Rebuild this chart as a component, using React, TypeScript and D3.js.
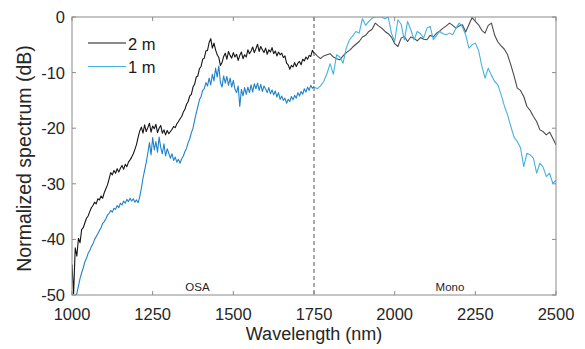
import React, { useEffect, useRef } from 'react';
import * as d3 from 'd3';

// OSA part: sampled every 5 nm, Mono part: 1750..2500 nm every 10 nm
const osaStart = 1000;
const osaStep = 5;
const monoStart = 1750;
const monoStep = 10;

// 2 m fibre, OSA, 1000..1750 nm (rows of 50 nm)
const black2mOsa = [
  -44.5, -49.8, -41.5, -43.0, -39.8, -40.6, -38.2, -37.9, -37.0, -36.2,
  -35.8, -35.0, -34.3, -33.9, -33.3, -33.6, -32.7, -32.9, -32.2, -32.6,
  -31.6, -30.9, -30.2, -29.1, -28.0, -28.4, -27.6, -28.1, -27.3, -27.9,
  -27.2, -26.7, -27.4, -26.5, -26.9, -26.1, -25.7, -25.2, -24.6, -23.8,
  -22.9, -21.6, -20.5, -19.8, -20.9, -19.4, -20.6, -19.9, -19.1, -20.7,
  -19.6, -20.1, -19.3, -20.8, -20.0, -19.5, -20.9, -20.3, -21.2, -20.4,
  -21.0, -20.6, -20.2, -19.7, -19.9, -19.2, -18.8, -18.3, -17.9, -17.1,
  -16.6, -15.7, -15.2, -14.2, -13.9, -12.6, -12.1, -10.8, -10.6, -9.3,
  -8.9, -7.6, -7.4, -6.1, -6.0, -4.6, -3.9, -5.6, -4.7, -5.9,
  -6.8, -7.3, -8.7, -8.2, -7.1, -6.5, -7.6, -6.2, -6.9, -7.4,
  -6.4, -7.2, -6.7, -7.8, -6.9, -6.3, -7.5, -6.8, -7.2, -5.9,
  -6.6, -6.1, -5.4, -6.4, -5.7, -4.9, -6.2, -5.3, -5.9, -6.4,
  -5.6, -6.7, -5.9, -6.3, -5.5, -6.6, -6.1, -7.0, -6.3, -6.8,
  -6.5, -7.3, -7.0, -8.3, -8.6, -9.4, -8.7, -9.0, -8.2, -8.9,
  -8.3, -8.0, -8.6, -7.6, -7.9, -7.2, -7.6, -6.9, -7.1, -6.0,
  -6.5,
];

// 1 m fibre, OSA, 1010..1750 nm
const blue1mOsaStart = 1010;
const blue1mOsa = [
  -50.5, -49.7, -48.4, -47.0, -46.0, -45.1, -44.0, -43.4, -42.5, -42.0,
  -41.3, -40.8, -40.0, -39.5, -39.0, -38.4, -37.9, -37.1, -36.8, -36.3,
  -35.6, -35.3, -34.8, -35.1, -34.4, -34.6, -33.9, -34.3, -33.5, -33.8,
  -33.1, -33.5, -32.8, -33.2, -32.6, -33.1, -32.7, -33.3, -32.9, -33.4,
  -32.3, -30.8, -29.0, -27.6, -26.2, -24.5, -22.6, -24.8, -21.7, -23.9,
  -22.4, -24.3, -21.6, -23.5, -24.6, -22.8, -25.0, -23.7, -24.5, -25.4,
  -24.6, -25.8, -25.2, -26.1, -25.6, -26.3, -25.5, -25.0, -24.2, -23.6,
  -22.6, -21.9, -20.8, -20.0, -18.6, -17.3, -16.1, -14.9, -14.3, -13.2,
  -12.9, -11.8, -12.4, -11.0, -12.2, -10.3, -11.5, -9.2, -10.8, -8.8,
  -11.8, -12.6, -10.6, -11.9, -10.7, -12.3, -11.0, -12.6, -11.4, -13.0,
  -13.6, -12.4, -16.1, -13.0, -14.2, -12.7, -13.9, -12.6, -13.6, -12.2,
  -13.5, -12.0, -12.9, -11.9, -13.2, -12.1, -13.4, -12.4, -12.9, -13.6,
  -12.7, -13.8, -13.1, -14.0, -13.3, -14.4, -13.6, -14.8, -14.2, -15.0,
  -14.6, -15.5, -14.8, -15.2, -14.3, -14.9, -14.1, -14.6, -13.6, -14.2,
  -13.4, -13.9, -12.9, -13.5, -12.6, -13.2, -12.3, -12.8,
  -12.5,
];

// Mono, 1750..2500 nm
const black2mMono = [
  -6.4, -7.0, -7.5, -7.0, -6.8, -6.6, -7.2, -7.5, -7.7, -7.0,
  -6.4, -6.0, -5.4, -4.9, -4.4, -3.6, -3.3, -2.6, -2.2, -1.1,
  -1.6, -2.0, -2.6, -3.0, -3.6, -4.8, -5.3, -3.8, -3.5, -4.4,
  -3.6, -3.8, -4.3, -3.7, -4.0, -4.1, -3.3, -3.6, -2.9, -2.5,
  -2.0, -1.6, -1.1, -1.5, -2.0, -1.6, -1.4, -2.7, -1.4, -0.1,
  -0.8, -1.4, -2.4, -2.9, -1.5, -1.1, -3.3, -4.5, -5.2, -5.8,
  -6.8, -8.6, -10.6, -12.8, -13.2, -14.3, -16.1, -16.8, -17.9, -18.8,
  -20.3, -20.6, -21.2, -20.7, -21.8, -23.0,
];

const blue1mMono = [
  -12.6, -12.9, -12.4, -11.6, -10.2, -8.4, -10.3, -6.8, -7.2, -8.3,
  -5.6, -4.1, -3.4, -2.6, -2.9, -0.3, -1.5, -0.8, -0.2, 0,
  0, 0, -0.3, 0, -2.9, -4.4, -0.5, -1.3, -4.1, -0.8,
  -2.3, -4.1, -2.6, -3.0, -3.8, -2.0, -1.7, -4.1, -3.3, -2.6,
  -3.0, -3.2, -2.9, -3.2, -2.0, -1.1, -1.8, -3.2, -5.6, -5.0,
  -4.7, -6.0, -8.8, -11.0, -9.2, -10.5, -11.6, -12.2, -14.0, -16.0,
  -17.6, -19.7, -21.6, -22.4, -23.5, -26.9, -24.5, -24.8, -25.4, -28.1,
  -26.3, -27.0, -28.7, -28.1, -29.9, -29.4,
];

const xTicks = [1000, 1250, 1500, 1750, 2000, 2250, 2500];
const yTicks = [0, -10, -20, -30, -40, -50];
const legendLabels = ['2 m', '1 m'];

const App: React.FC = () => {
  const svgRef = useRef<SVGSVGElement | null>(null);

  useEffect(() => {
    if (!svgRef.current) return;
    const width = 585;
    const height = 349;
    const margin = { top: 17, right: 29, bottom: 54, left: 72 };
    const font = '"Liberation Sans", Arial, sans-serif';

    const svg = d3.select(svgRef.current);
    svg.selectAll('*').remove();

    const x = d3.scaleLinear().domain([1000, 2500]).range([margin.left, width - margin.right]);
    const y = d3.scaleLinear().domain([-50, 0]).range([height - margin.bottom, margin.top]);
    const [x0, x1] = x.range();
    const [y0, y1] = y.range();

    svg.append('defs').append('clipPath').attr('id', 'plot-clip')
      .append('rect').attr('x', x0).attr('y', y1).attr('width', x1 - x0).attr('height', y0 - y1);

    const line = d3.line<[number, number]>().x(d => x(d[0])).y(d => y(d[1]));
    const toPts = (vals: number[], start: number, step: number) =>
      vals.map((v, i) => [start + i * step, v] as [number, number]);

    const series = [
      { pts: toPts(black2mOsa, osaStart, osaStep), color: '#151515' },
      { pts: toPts(blue1mOsa, blue1mOsaStart, osaStep), color: '#2182cc' },
      { pts: toPts(black2mMono, monoStart, monoStep), color: '#4a4a4a' },
      { pts: toPts(blue1mMono, monoStart, monoStep), color: '#45b2e2' },
    ];

    const plot = svg.append('g').attr('clip-path', 'url(#plot-clip)');
    series.forEach(s => {
      plot.append('path').datum(s.pts)
        .attr('fill', 'none').attr('stroke', s.color).attr('stroke-width', 1.1)
        .attr('stroke-linejoin', 'round').attr('d', line);
    });

    // divider OSA / Mono
    svg.append('line')
      .attr('x1', x(1750)).attr('x2', x(1750)).attr('y1', y1).attr('y2', y0)
      .attr('stroke', '#555').attr('stroke-width', 1).attr('stroke-dasharray', '4,3');

    // box + ticks
    const axisColor = '#8a8a8a';
    svg.append('rect').attr('x', x0).attr('y', y1).attr('width', x1 - x0).attr('height', y0 - y1)
      .attr('fill', 'none').attr('stroke', axisColor).attr('stroke-width', 1);

    const tl = 4;
    xTicks.forEach(t => {
      svg.append('line').attr('x1', x(t)).attr('x2', x(t)).attr('y1', y0).attr('y2', y0 - tl)
        .attr('stroke', axisColor);
      svg.append('line').attr('x1', x(t)).attr('x2', x(t)).attr('y1', y1).attr('y2', y1 + tl)
        .attr('stroke', axisColor);
      svg.append('text').attr('x', x(t)).attr('y', y0 + 25).attr('text-anchor', 'middle')
        .attr('font-family', font).attr('font-size', 16.5).attr('fill', '#262626').text(t);
    });
    yTicks.forEach(t => {
      svg.append('line').attr('x1', x0).attr('x2', x0 + tl).attr('y1', y(t)).attr('y2', y(t))
        .attr('stroke', axisColor);
      svg.append('line').attr('x1', x1).attr('x2', x1 - tl).attr('y1', y(t)).attr('y2', y(t))
        .attr('stroke', axisColor);
      svg.append('text').attr('x', x0 - 7).attr('y', y(t) + 6).attr('text-anchor', 'end')
        .attr('font-family', font).attr('font-size', 16.5).attr('fill', '#262626').text(t);
    });

    // axis titles
    svg.append('text').attr('x', (x0 + x1) / 2).attr('y', 340).attr('text-anchor', 'middle')
      .attr('font-family', font).attr('font-size', 18).attr('fill', '#262626').text('Wavelength (nm)');
    svg.append('text')
      .attr('transform', `translate(31, 158.5) rotate(-90)`)
      .attr('text-anchor', 'middle').attr('font-family', font).attr('font-size', 19.5)
      .attr('fill', '#262626').text('Normalized spectrum (dB)');

    // region labels
    svg.append('text').attr('x', 197.5).attr('y', y0 - 4).attr('text-anchor', 'middle')
      .attr('font-family', font).attr('font-size', 11.5).attr('fill', '#262626').text('OSA');
    svg.append('text').attr('x', 450).attr('y', y0 - 4).attr('text-anchor', 'middle')
      .attr('font-family', font).attr('font-size', 11.5).attr('fill', '#262626').text('Mono');

    // legend
    const legendColors = ['#151515', '#45b2e2'];
    legendLabels.forEach((lab, i) => {
      const ly = 43 + i * 23.5;
      svg.append('line').attr('x1', 88).attr('x2', 126).attr('y1', ly).attr('y2', ly)
        .attr('stroke', legendColors[i]).attr('stroke-width', 1.2);
      svg.append('text').attr('x', 128).attr('y', ly + 6.5)
        .attr('font-family', font).attr('font-size', 16.5).attr('fill', '#1a1a1a').text(lab);
    });
  }, []);

  return (
    <svg ref={svgRef} width={585} height={349}
      style={{ position: 'absolute', left: 0, top: 0, background: '#fff' }} />
  );
};

export default App;
